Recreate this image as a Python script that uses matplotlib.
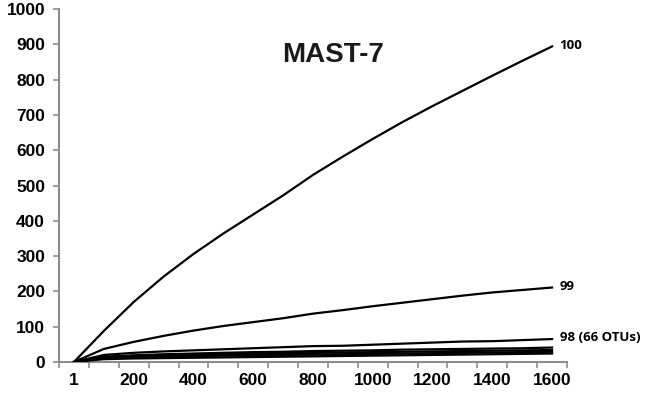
import matplotlib
matplotlib.use("Agg")
import matplotlib.pyplot as plt
import numpy as np

categories = ["1", "100", "200", "300", "400", "500", "600", "700", "800",
              "900", "1000", "1100", "1200", "1300", "1400", "1500", "1600"]
tick_labels = ["1", "", "200", "", "400", "", "600", "", "800",
               "", "1000", "", "1200", "", "1400", "", "1600"]

s100 = [0, 88, 170, 242, 306, 364, 418, 472, 530, 582, 632, 680, 725, 768, 811, 853, 894]
s99 = [0, 37, 57, 74, 89, 102, 113, 124, 137, 147, 158, 168, 178, 188, 197, 204, 211]
s98 = [0, 20, 26, 30, 33, 36, 39, 42, 45, 46, 49, 52, 55, 58, 59, 62, 65]
s97 = [0, 15, 19, 22, 24, 26, 28, 29, 31, 32, 33, 35, 36, 37, 38, 39, 41]
s96 = [0, 13, 17, 19, 21, 22, 23, 25, 26, 27, 28, 29, 30, 31, 32, 33, 34]
s95 = [0, 11, 14, 16, 17, 18, 19, 20, 21, 22, 23, 24, 25, 26, 27, 28, 29]
s94 = [0, 8, 10, 11, 12, 13, 14, 15, 16, 17, 18, 19, 20, 21, 22, 23, 24]

series = [("100", s100), ("99", s99), ("98 (66 OTUs)", s98),
          ("", s97), ("", s96), ("", s95), ("", s94)]
title = "MAST-7"

narrow = ["Liberation Sans Narrow", "Liberation Sans", "DejaVu Sans"]
label_font = ["Open Sans", "DejaVu Sans"]

fig = plt.figure(figsize=(6.6, 3.93), dpi=100)
ax = fig.add_axes([59 / 660, 1 - 362 / 393, (567 - 59) / 660, (362 - 9) / 393])

x = np.arange(len(categories))
for name, vals in series:
    ax.plot(x, vals, color="black", lw=1.6, solid_joinstyle="round", zorder=3)
    if name:
        ax.annotate(name, xy=(x[-1], vals[-1]), xytext=(5.5, 1), textcoords="offset points",
                    ha="left", va="center", fontsize=9.5, fontweight="bold",
                    family=label_font, color="black")

ax.set_xlim(-0.5, len(categories) - 0.5)
ax.set_ylim(0, 1000)

ax.set_xticks(x)
ax.set_xticklabels(tick_labels, fontsize=12.5, fontweight="bold", family=narrow)
ax.set_xticks(np.arange(len(categories) + 1) - 0.5, minor=True)
ax.tick_params(axis="x", which="major", length=0, pad=8)
ax.tick_params(axis="x", which="minor", length=4, width=1.2, color="#8c8c8c", direction="out")

ax.set_yticks(np.arange(0, 1001, 100))
ax.set_yticklabels([str(v) for v in range(0, 1001, 100)], fontsize=12.5,
                   fontweight="bold", family=narrow)
ax.tick_params(axis="y", which="major", length=4, width=1.2, color="#8c8c8c",
               direction="out", pad=6)

for sp in ["top", "right"]:
    ax.spines[sp].set_visible(False)
for sp in ["left", "bottom"]:
    ax.spines[sp].set_color("#8c8c8c")
    ax.spines[sp].set_linewidth(1.5)

fig.text(333 / 660, 1 - 55 / 393, title, ha="center", va="center",
         fontsize=20, fontweight="bold", family=narrow, color="#1a1a1a")

fig.savefig("out.png", dpi=100)
